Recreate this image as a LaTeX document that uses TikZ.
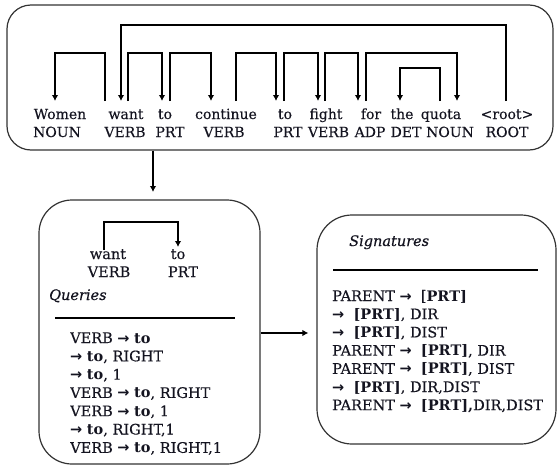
\documentclass[tikz,border=0pt]{standalone}
\usepackage{fontspec}
\setmainfont{DejaVu Serif}[UprightFeatures={FakeBold=0.35},ItalicFeatures={FakeBold=0.35}]
\newfontfamily\arrfont{DejaVu Sans}
\usetikzlibrary{arrows.meta}
\definecolor{ink}{HTML}{141420}
\newcommand{\myarr}{{\arrfont\bfseries →}}
\tikzset{
  txt/.style={font=\fontsize{14.5}{18}\selectfont, inner sep=0pt, text=ink},
  ttxt/.style={font=\fontsize{14}{17}\selectfont, inner sep=0pt, text=ink, anchor=base},
  box/.style={draw=black!80, line width=1.2pt, rounded corners=#1, inner sep=0pt},
  dep/.style={draw=black, line width=1.6pt, -{Latex[length=6pt,width=6.5pt]}},
  rulel/.style={draw=black, line width=1.4pt},
}
\newcommand{\deparc}[4]{%
  \coordinate (#1s) at (#2,101);
  \coordinate (#1e) at (#3,101);
  \draw[dep] (#1s) -- (#2,#4) -| (#1e);}
\begin{document}
\begin{tikzpicture}[x=1pt,y=-1pt]
\useasboundingbox (0,0) rectangle (557,466);
% boxes
\node[box=24pt, minimum width=546pt, minimum height=145pt] (top) at (280,77.5) {};
\node[box=33pt, minimum width=221pt, minimum height=264pt] (ql) at (149.5,332) {};
\node[box=35pt, minimum width=239pt, minimum height=229pt] (sig) at (436.5,329.5) {};
% words
\node[ttxt] (w1) at (60,119) {Women};
\node[ttxt] (w2) at (126,119) {want};
\node[ttxt] (w3) at (165,119) {to};
\node[ttxt] (w4) at (226,119) {continue};
\node[ttxt] (w5) at (285,119) {to};
\node[ttxt] (w6) at (326,119) {fight};
\node[ttxt] (w7) at (371,119) {for};
\node[ttxt] (w8) at (402,119) {the};
\node[ttxt] (w9) at (441,119) {quota};
\node[ttxt] (w10) at (507,119) {<root>};
% POS
\node[ttxt] (p1) at (57,137) {NOUN};
\node[ttxt] (p2) at (125,137) {VERB};
\node[ttxt] (p3) at (288,137) {PRT};
\node[ttxt] (p4) at (224,137) {VERB};
\node[ttxt] (p5) at (170,137) {PRT};
\node[ttxt] (p6) at (328.5,137) {VERB};
\node[ttxt] (p7) at (370,137) {ADP};
\node[ttxt] (p8) at (406,137) {DET};
\node[ttxt] (p9) at (450,137) {NOUN};
\node[ttxt] (p10) at (507,137) {ROOT};
% dependency arcs
\deparc{ra}{506}{121}{25}
\deparc{aa}{105}{55}{53}
\deparc{ab}{128}{162}{53}
\deparc{ac}{170}{211}{53}
\deparc{ad}{236}{276}{53}
\deparc{ae}{284}{318}{53}
\deparc{af}{325}{358}{53}
\deparc{ag}{366}{457}{53}
\deparc{ah}{440}{400}{68}
% arrow top -> queries
\coordinate (d1) at (153,192);
\draw[dep] (top.south -| d1) -- (d1);
% mini arc
\node[txt, anchor=base] (qw) at (108,259) {want};
\node[txt, anchor=base] (qv) at (109,277) {VERB};
\node[txt, anchor=base] (qt) at (178,259) {to};
\node[txt, anchor=base] (qp) at (183,277) {PRT};
\coordinate (ms) at (104,250);
\coordinate (me) at (178,247);
\draw[dep] (ms) -- (104,222) -| (me);
% queries
\node[txt, anchor=base west, font=\fontsize{14.5}{18}\selectfont\itshape] (qh) at (49,300) {Queries};
\coordinate (qr1) at (55,318); \coordinate (qr2) at (235,318);
\draw[rulel] (qr1) -- (qr2);
\node[txt, anchor=base west] (q1) at (70,343) {VERB \myarr{} \textbf{to}};
\node[txt, anchor=base west] (q2) at (70,361.3) {\myarr{} \textbf{to}, RIGHT};
\node[txt, anchor=base west] (q3) at (70,379.6) {\myarr{} \textbf{to}, 1};
\node[txt, anchor=base west] (q4) at (70,397.9) {VERB \myarr{} \textbf{to}, RIGHT};
\node[txt, anchor=base west] (q5) at (70,416.2) {VERB \myarr{} \textbf{to}, 1};
\node[txt, anchor=base west] (q6) at (70,434.5) {\myarr{} \textbf{to}, RIGHT,1};
\node[txt, anchor=base west] (q7) at (70,452.8) {VERB \myarr{} \textbf{to}, RIGHT,1};
% signatures
\node[txt, anchor=base west, font=\fontsize{14.5}{18}\selectfont\itshape] (sh) at (349,246) {Signatures};
\coordinate (sr1) at (333,270); \coordinate (sr2) at (538,270);
\draw[rulel] (sr1) -- (sr2);
\node[txt, anchor=base west] (s1) at (332,301) {PARENT \myarr{}\ \ [\textbf{PRT]}};
\node[txt, anchor=base west] (s2) at (332,319.2) {\myarr{}\ \ \textbf{[PRT]}, DIR};
\node[txt, anchor=base west] (s3) at (332,337.4) {\myarr{}\ \ \textbf{[PRT]}, DIST};
\node[txt, anchor=base west] (s4) at (332,355.6) {PARENT \myarr{}\ \ \textbf{[PRT]}, DIR};
\node[txt, anchor=base west] (s5) at (332,373.8) {PARENT \myarr{}\ \ \textbf{[PRT]}, DIST};
\node[txt, anchor=base west] (s6) at (332,392) {\myarr{}\ \ \textbf{[PRT]}, DIR,DIST};
\node[txt, anchor=base west] (s7) at (332,410.2) {PARENT \myarr{}\ \ \textbf{[PRT],}DIR,DIST};
% arrow queries -> signatures
\coordinate (h) at (0,333);
\draw[dep, shorten >=8pt] (ql.east |- h) -- (sig.west |- h);
\end{tikzpicture}
\end{document}
